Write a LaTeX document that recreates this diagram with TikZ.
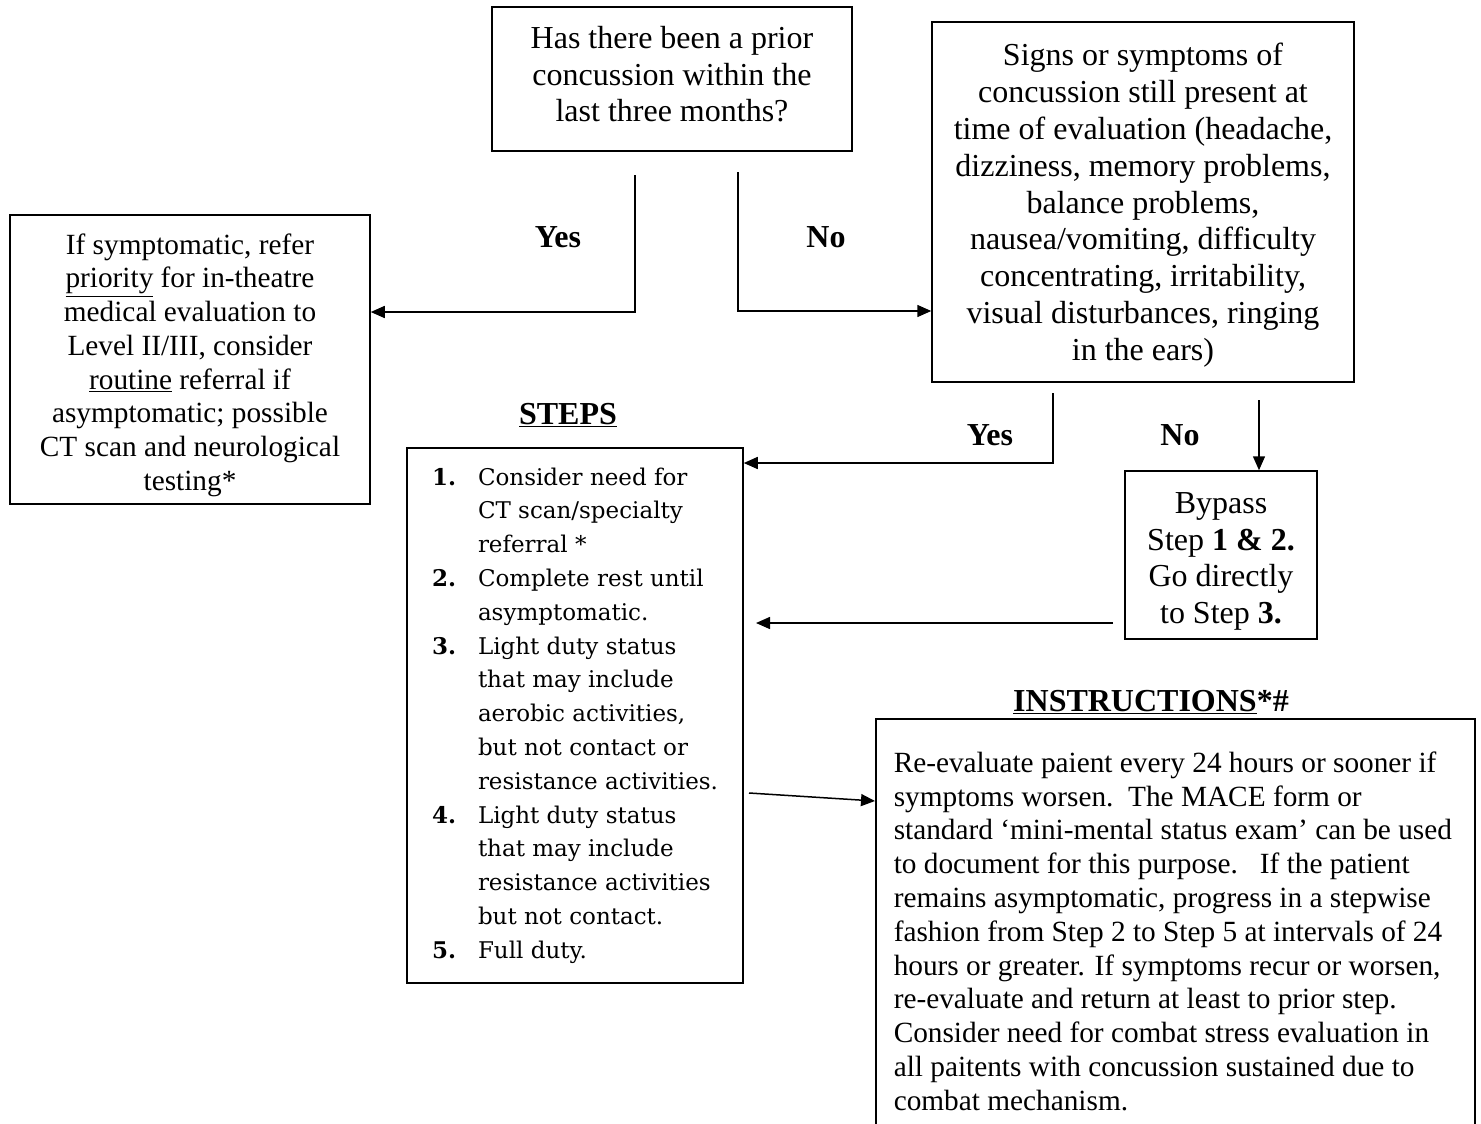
\documentclass[tikz,border=0pt]{standalone}
\usepackage{fontspec}
\setmainfont{Liberation Serif}
\newfontfamily\stepfont{DejaVu Serif}
\usetikzlibrary{arrows.meta}
\newcommand\btext[2]{\raisebox{#1}[\height][\depth]{\begin{tabular}{@{}c@{}}#2\end{tabular}}}
\tikzset{
  box/.style={draw, line width=1.5pt, inner sep=0pt},
  lbl/.style={font=\bfseries\fontsize{32}{37}\selectfont},
  conn/.style={line width=1.5pt, -{Triangle[length=14pt,width=12pt]}},
}
\begin{document}
\begin{tikzpicture}[x=1pt,y=-1pt]
\useasboundingbox (0,0) rectangle (1481,1124);
\clip (0,0) rectangle (1481,1124);

% boxes
\node[box, font=\fontsize{32}{37}\selectfont, minimum width=360, minimum height=144] (q1) at (672,79)
  {\btext{1.4pt}{Has there been a prior\\concussion within the\\last three months?}};
\node[box, font=\fontsize{32}{36.8}\selectfont, minimum width=422, minimum height=360] (q2) at (1143,202)
  {\btext{-3.7pt}{Signs or symptoms of\\concussion still present at\\time of evaluation (headache,\\dizziness, memory problems,\\balance problems,\\nausea/vomiting, difficulty\\concentrating, irritability,\\visual disturbances, ringing\\in the ears)}};
\node[box, font=\fontsize{29.3}{33.7}\selectfont, minimum width=360, minimum height=289] (refer) at (190,359.5)
  {\btext{-6pt}{If symptomatic, refer\\\underline{priority} for in-theatre\\medical evaluation to\\Level II/III, consider\\\underline{routine} referral if\\asymptomatic; possible\\CT scan and neurological\\testing*}};
\node[box, font=\fontsize{32}{36.5}\selectfont, minimum width=192, minimum height=168] (bypass) at (1221,555)
  {\btext{-6pt}{Bypass\\Step \textbf{1 \& 2.}\\Go directly\\to Step \textbf{3.}}};
\node[box, align=left, minimum width=336, minimum height=535,
      font=\stepfont\fontsize{23}{33.8}\selectfont] (steps) at (575,715.5)
  {\makebox[46pt][l]{\textbf{1.}}Consider need for\\
   \hspace*{46pt}CT scan/specialty\\
   \hspace*{46pt}referral *\\
   \makebox[46pt][l]{\textbf{2.}}Complete rest until\\
   \hspace*{46pt}asymptomatic.\\
   \makebox[46pt][l]{\textbf{3.}}Light duty status\\
   \hspace*{46pt}that may include\\
   \hspace*{46pt}aerobic activities,\\
   \hspace*{46pt}but not contact or\\
   \hspace*{46pt}resistance activities.\\
   \makebox[46pt][l]{\textbf{4.}}Light duty status\\
   \hspace*{46pt}that may include\\
   \hspace*{46pt}resistance activities\\
   \hspace*{46pt}but not contact.\\
   \makebox[46pt][l]{\textbf{5.}}Full duty.};
\node[box, align=left, anchor=north west, text width=563pt, inner xsep=18pt, inner ysep=33pt,
      font=\fontsize{29.3}{33.8}\selectfont] (instr) at (875,718)
  {\spaceskip=0pt\relax\xspaceskip=0pt\relax
   Re-evaluate paient every 24 hours or sooner if\\
   symptoms worsen.\ \ The MACE form or\\
   standard ‘mini-mental status exam’ can be used\\
   to document for this purpose.\ \ \ If the patient\\
   remains asymptomatic, progress in a stepwise\\
   fashion from Step 2 to Step 5 at intervals of 24\\
   hours or greater. If symptoms recur or worsen,\\
   re-evaluate and return at least to prior step.\\
   Consider need for combat stress evaluation in\\
   all paitents with concussion sustained due to\\
   combat mechanism.};

% headings
\node[lbl] (stepshead) at (568,415) {\underline{STEPS}};
\node[lbl] (instrhead) at (1151,702) {\underline{INSTRUCTIONS}*\#};

% labels
\node[lbl] (yes1) at (558,237) {Yes};
\node[lbl] (no1) at (826,237) {No};
\node[lbl] (yes2) at (990,435) {Yes};
\node[lbl] (no2) at (1180,435) {No};

% connectors
\coordinate (yA) at (635,175);
\coordinate (yB) at (635,312);
\draw[conn] (yA) -- (yB) -- (yB -| refer.east);
\coordinate (nA) at (738,172);
\coordinate (nB) at (738,311);
\draw[conn] (nA) -- (nB) -- (nB -| q2.west);
\coordinate (y2A) at (1053,393);
\coordinate (y2B) at (1053,463);
\draw[conn] (y2A) -- (y2B) -- (y2B -| steps.east);
\coordinate (n2A) at (1259,400);
\draw[conn] (n2A) -- (n2A |- bypass.north);
\coordinate (bpA) at (1113,623);
\coordinate (bpB) at (756,623);
\draw[conn] (bpA) -- (bpB);
\coordinate (stA) at (749,793);
\coordinate (stB) at (875,801);
\draw[conn] (stA) -- (stB);
\end{tikzpicture}
\end{document}
